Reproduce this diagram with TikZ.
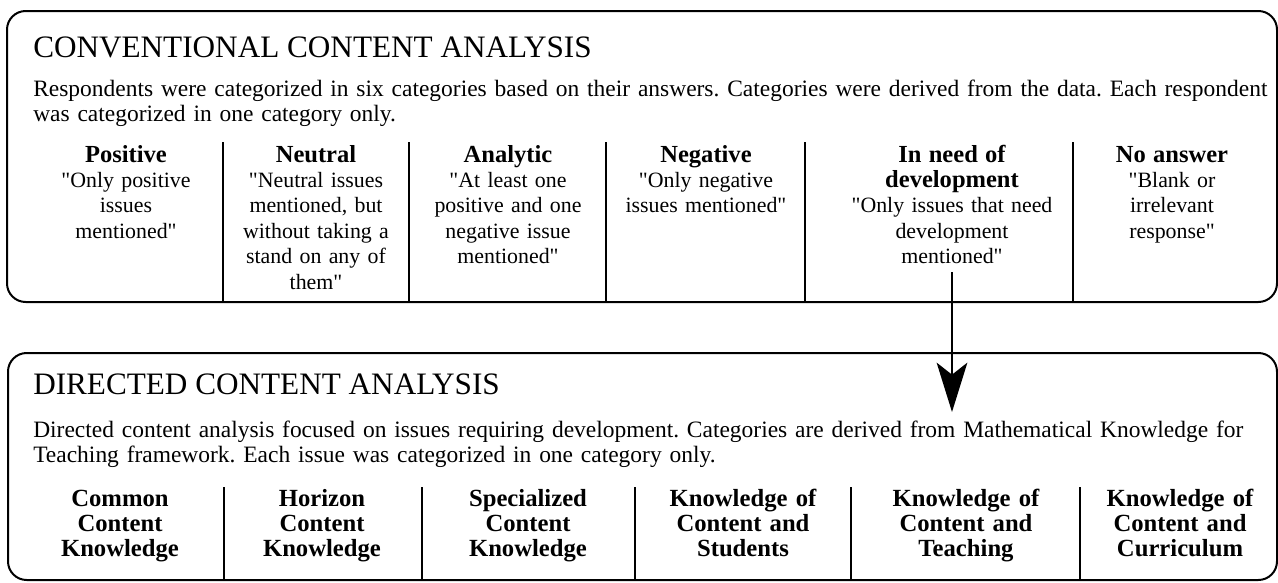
\documentclass[tikz,border=0pt]{standalone}
\usepackage{fontspec}
\setmainfont{Liberation Serif}[Ligatures=TeXOff]
\usetikzlibrary{arrows.meta}
\frenchspacing
\begin{document}
\begin{tikzpicture}[x=0.75pt,y=-0.75pt,
  panel/.style={draw, line width=1.5pt, rounded corners=14pt},
  rule/.style={line width=1.5pt},
  heading/.style={anchor=base west, inner sep=0pt, font=\fontsize{23.4}{27}\selectfont},
  blurb/.style={anchor=base west, inner sep=0pt, text width=960pt, align=left,
    font=\fontsize{17.6}{18.75}\selectfont},
  category/.style={anchor=base, inner sep=0pt, text width=190pt, align=center,
    font=\fontsize{16.4}{19.1}\selectfont},
  mkt/.style={category, font=\fontsize{18.5}{19.1}\selectfont\bfseries},
  flow/.style={line width=1.5pt, -{Stealth[length=37pt,width=23pt,inset=9pt]}}
]
\useasboundingbox (0,0) rectangle (1278,582);

% upper panel: conventional analysis
\draw[panel] (7,11) rectangle (1277,302);
\node[heading] (convtitle) at (33,57) {CONVENTIONAL CONTENT ANALYSIS};
\node[blurb] (convtext) at (33,96) {Respondents were categorized in six categories based on their answers. Categories were derived from the data. Each respondent\\was categorized in one category only.};
\foreach \x in {223,409,606,805,1073} \draw[rule] (\x,142) -- (\x,302);
\newcommand\cathead[1]{{\fontsize{18.4}{19.1}\selectfont\bfseries #1}}
\node[category] (pos) at (126,162) {\cathead{Positive}\\"Only positive\\issues\\mentioned"};
\node[category] (neu) at (316,162) {\cathead{Neutral}\\"Neutral issues\\mentioned, but\\without taking a\\stand on any of\\them"};
\node[category] (ana) at (508,162) {\cathead{Analytic}\\"At least one\\positive and one\\negative issue\\mentioned"};
\node[category] (neg) at (706,162) {\cathead{Negative}\\"Only negative\\issues mentioned"};
\node[category] (need) at (952,162) {\cathead{In need of}\\\cathead{development}\\"Only issues that need\\development\\mentioned"};
\node[category] (none) at (1172,162) {\cathead{No answer}\\"Blank or\\irrelevant\\response"};

% lower panel: directed analysis
\draw[panel] (8,353) rectangle (1277,580);
\node[heading] (dirtitle) at (33,394) {DIRECTED CONTENT ANALYSIS};
\node[blurb] (dirtext) at (33,437) {Directed content analysis focused on issues requiring development. Categories are derived from Mathematical Knowledge for\\Teaching framework. Each issue was categorized in one category only.};
\foreach \x in {224,422,635,851,1080} \draw[rule] (\x,487) -- (\x,580);
\node[mkt] (cck) at (120,506) {Common\\Content\\Knowledge};
\node[mkt] (hck) at (322,506) {Horizon\\Content\\Knowledge};
\node[mkt] (sck) at (528,506) {Specialized\\Content\\Knowledge};
\node[mkt] (kcs) at (743,506) {Knowledge of\\Content and\\Students};
\node[mkt] (kct) at (966,506) {Knowledge of\\Content and\\Teaching};
\node[mkt] (kcc) at (1180,506) {Knowledge of\\Content and\\Curriculum};

% link from the development category down into the second stage
\coordinate (tip) at (952,412);
\draw[flow] ([yshift=-6pt]need.south) -- (tip);
\end{tikzpicture}
\end{document}
